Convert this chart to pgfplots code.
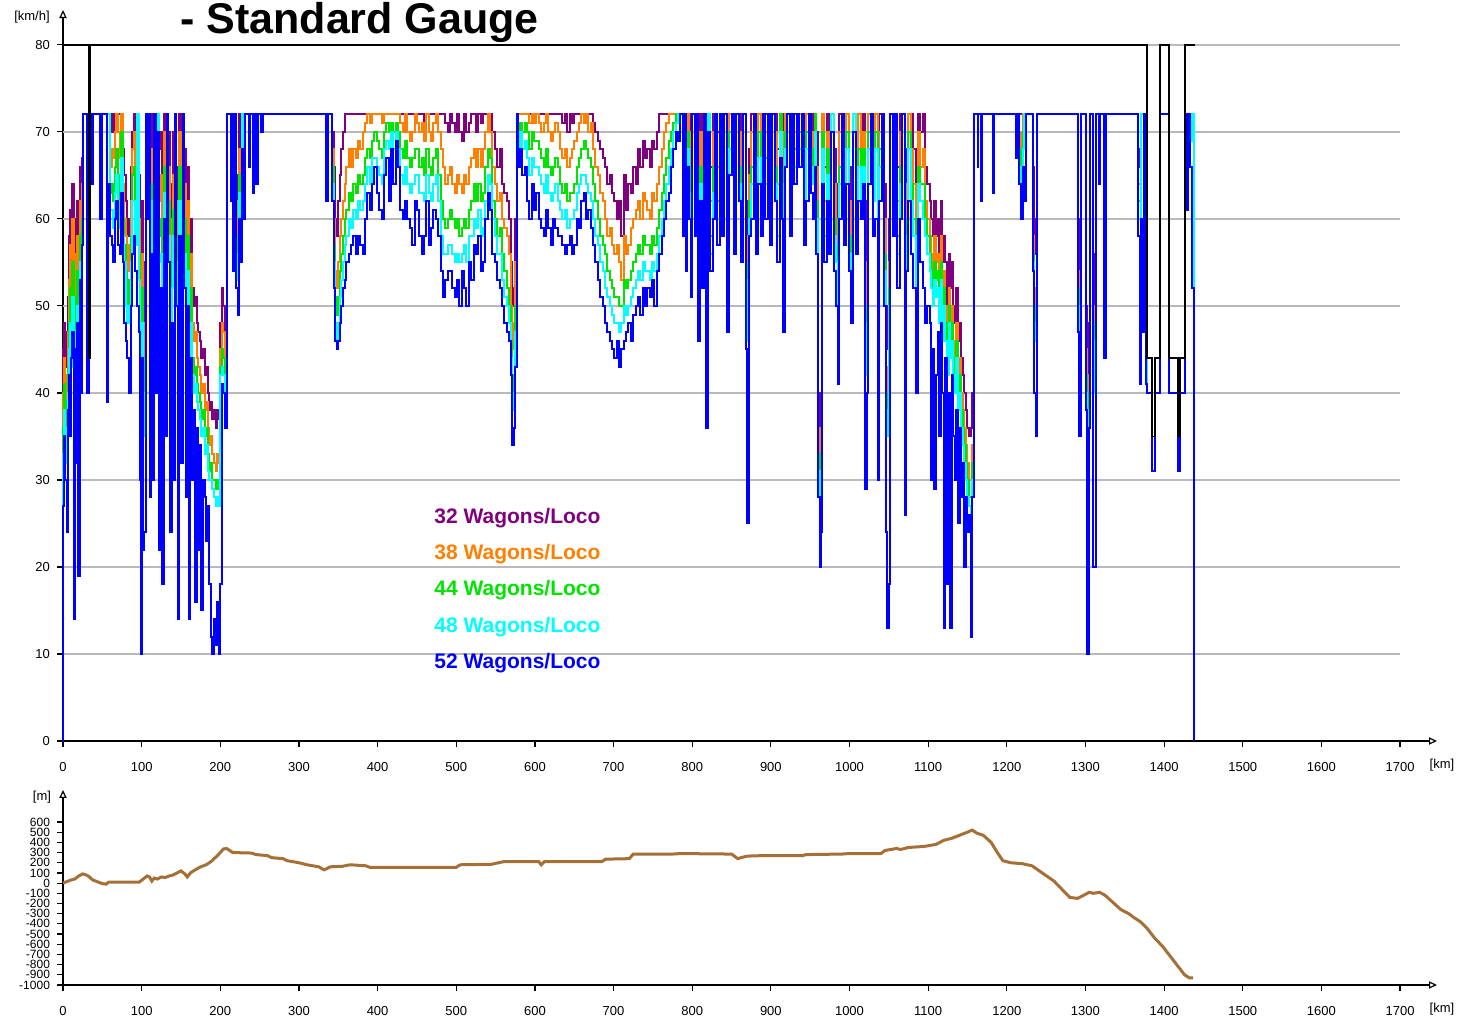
\documentclass[border=0pt]{standalone}
\usepackage{pgfplots}
\pgfplotsset{compat=1.18}
\usepackage{pgfplotstable}
\usepackage{fontspec}
\setmainfont{Liberation Sans}
\usetikzlibrary{arrows.meta}
\definecolor{cpurple}{RGB}{128,0,128}
\definecolor{corange}{RGB}{255,128,0}
\definecolor{cgreen}{RGB}{0,228,0}
\definecolor{ccyan}{RGB}{0,255,255}
\definecolor{cblue}{RGB}{0,0,255}
\definecolor{cgrid}{RGB}{185,185,185}
\definecolor{cbrown}{RGB}{165,112,55}

\pgfplotstableread{
km a b c d e
0 0 0 0 0 0
0.01 45 40 36 33 27
1.5 48 44 41 38 35
3 43 38 35 32 30
4.5 47 42 39 36 24
6 51 47 43 40 38
7.5 58 53 48 45 42
9 61 57 52 48 35
10.5 56 50 46 43 44
12 64 60 55 51 47
13.5 55 48 44 41 14
15 60 56 51 47 45
16.5 52 45 41 38 32
18 62 58 54 50 48
19.5 57 50 46 42 19
21 66 62 58 55 53
22.5 60 55 50 46 40
24 67 64 60 57 57
25.5 72 72 72 72 72
31 72 72 72 72 40
33 72 72 72 72 72
37 72 72 70 70 64
38.5 72 72 72 72 72
45 72 72 72 72 72
47 72 72 72 72 60
50 72 72 72 72 72
56 72 72 72 72 39
57.5 72 72 72 72 64
60 70 66 63 61 58
62 72 68 64 61 57
64 70 67 62 59 55
66 72 70 66 63 60
68 72 72 68 65 62
70 72 70 65 62 57
72 72 67 62 59 56
74 72 72 70 67 63
76 68 64 60 58 55
78 65 60 57 55 48
80 62 58 54 50 46
82 58 54 50 48 44
84 60 57 53 50 40
86 66 62 58 55 50
88 70 68 65 62 56
90 72 70 66 62 58
92 68 64 60 57 54
94 72 72 72 72 50
96 65 60 56 53 47
98 55 50 45 42 30
99 50 45 40 37 10
100.5 62 56 52 48 44
102 48 43 38 35 22
103.5 55 48 44 40 24
105 72 72 72 72 72
107 72 72 72 72 60
109 72 72 72 72 72
110 58 52 48 45 28
112 72 68 64 62 56
114 65 62 58 55 30
116 72 72 72 72 72
118 60 55 50 47 40
120 72 72 72 72 70
122 68 62 58 55 22
124 70 65 60 56 52
126 63 58 54 50 18
128 72 70 66 63 60
130 66 60 56 52 35
132 72 72 72 72 72
134 70 66 62 58 55
136 60 55 50 47 24
138 64 60 55 52 48
140 70 65 61 58 30
142 72 72 72 72 72
144 66 62 58 55 50
146 58 52 48 45 14
148 72 70 66 62 58
150 64 58 54 50 32
152 72 72 72 72 72
154 68 64 60 56 52
156 60 55 50 47 28
158 66 62 58 54 50
160 56 50 46 43 14
162 60 56 52 48 44
164 52 48 44 42 30
166 50 46 42 40 38
168 51 47 43 41 16
170 48 44 41 39 36
172 47 43 40 38 22
174 46 42 39 37 34
176 44 40 37 35 15
178 45 41 38 36 30
180 42 38 35 33 28
182 43 39 36 34 23
184 40 36 33 31 27
186 38 34 31 30 18
188 39 35 32 30 12
190 37 33 30 29 10
192 38 32 30 28 14
194 36 31 29 27 11
196 38 33 30 28 16
198 37 32 29 27 10
200 48 45 43 42 18
202 52 48 45 43 41
204 50 47 44 42 40
206 46 42 40 38 36
208 72 72 72 72 72
212 72 72 72 72 72
213 72 72 72 72 62
214 72 72 72 72 72
216 60 58 56 55 54
218 72 72 72 72 72
220 65 62 58 56 52
222 58 56 55 53 49
224 72 68 65 63 60
226 62 60 58 56 55
228 72 72 72 72 68
230 66 64 62 61 60
232 72 72 72 72 72
236 72 72 70 68 66
238 72 72 72 72 72
241 72 70 68 67 63
243 72 72 72 72 72
246 72 72 70 68 64
248 72 72 72 72 72
252 72 72 71 71 70
254 72 72 72 72 72
334 72 72 72 72 72
335 72 72 71 70 62
337 72 72 72 72 72
342 70 68 66 64 62
344 66 60 57 55 52
346 60 54 51 48 46
348 58 52 49 46 45
350 62 55 51 48 46
352 65 58 54 51 48
354 68 60 56 53 50
356 70 62 58 55 52
358 72 64 60 57 53
360 72 66 61 58 55
363 72 68 63 60 56
366 72 66 62 59 57
369 72 68 64 61 58
372 72 67 63 60 56
375 72 69 65 62 58
378 72 68 64 61 57
381 72 70 65 62 56
384 72 71 67 64 60
387 72 72 68 66 63
390 72 71 67 64 61
393 72 72 69 67 64
396 72 72 70 67 66
399 72 72 69 66 63
402 72 72 68 65 61
405 72 71 67 64 60
408 72 72 70 68 65
411 72 72 71 69 67
414 72 72 70 68 62
417 72 72 71 70 68
420 72 72 70 68 64
423 72 72 71 70 69
426 72 72 70 68 66
429 72 71 68 65 61
432 72 70 67 64 60
435 72 72 69 66 62
438 72 70 67 64 60
441 72 69 66 63 59
444 72 70 67 64 57
447 72 72 68 65 62
450 72 71 68 65 61
453 72 70 66 63 58
456 72 71 67 63 56
459 71 69 65 62 58
462 72 72 68 65 62
465 72 70 66 63 57
468 72 69 65 62 59
471 72 71 67 64 61
474 72 72 68 65 60
477 72 70 65 62 58
480 72 68 62 58 54
483 72 66 60 56 51
486 71 64 59 56 53
489 70 65 60 57 54
492 72 66 61 57 54
495 71 64 60 56 52
498 70 63 59 55 51
501 72 65 60 56 53
504 70 64 58 55 50
507 69 63 59 56 54
510 72 65 60 57 52
513 70 64 59 55 50
516 71 66 61 58 55
519 72 67 62 58 53
522 72 68 64 60 57
525 70 66 62 59 56
528 72 68 64 61 58
531 71 66 62 58 54
534 72 68 63 59 55
537 72 70 66 62 60
540 72 72 68 65 63
543 72 70 67 64 61
546 70 66 62 60 56
549 68 64 60 58 55
552 66 62 58 56 53
555 68 63 59 56 52
558 64 60 56 53 50
561 63 59 54 51 48
564 62 58 52 50 47
567 60 56 50 48 46
569 55 50 46 44 42
571 50 45 40 38 34
573 52 48 42 40 36
575 60 55 50 47 43
577 72 72 72 72 72
578 72 72 70 68 66
581 72 72 71 70 68
584 72 72 70 68 65
587 72 72 71 69 66
590 72 72 70 67 62
593 72 71 68 65 60
596 72 72 70 67 64
599 72 71 69 66 61
602 72 72 69 66 63
605 72 71 68 65 60
608 72 70 67 64 59
611 72 71 66 63 58
614 72 72 68 65 61
617 72 70 66 63 59
620 72 69 65 62 57
623 72 70 66 63 60
626 72 71 67 64 59
629 72 70 66 62 58
632 72 68 64 61 58
635 71 67 63 60 57
638 72 68 64 61 56
641 70 66 62 59 57
644 72 67 63 60 58
647 71 68 63 60 56
650 72 69 64 61 57
653 72 70 66 63 60
656 72 71 67 64 59
659 72 72 68 65 62
662 72 71 69 65 63
665 72 72 68 64 60
668 72 70 67 63 61
671 72 71 66 62 59
674 71 68 64 60 57
677 70 66 62 58 55
680 69 65 60 57 53
683 68 63 58 55 51
686 67 62 57 54 50
689 66 60 56 52 48
692 64 58 54 51 47
695 65 59 53 50 46
698 63 57 52 49 45
701 62 56 51 48 44
704 60 57 51 48 46
707 62 55 50 47 43
710 58 53 50 48 45
713 65 58 53 50 46
716 61 56 52 49 47
719 64 57 53 50 48
722 63 59 54 51 46
725 66 60 55 52 49
728 64 61 56 53 50
731 68 62 57 54 51
734 66 60 56 53 49
737 69 63 58 55 52
740 67 62 57 54 50
743 68 61 57 54 52
746 66 60 56 53 51
749 69 63 58 55 53
752 68 62 57 54 50
755 70 64 59 56 54
758 72 66 61 58 56
761 72 68 63 60 58
764 72 70 65 62 60
767 72 71 67 64 62
770 72 72 69 66 63
773 72 72 70 68 66
776 72 72 71 70 68
779 72 72 72 71 70
782 72 72 72 72 69
785 72 72 72 72 72
788 72 68 64 62 58
790 72 72 72 72 72
792 65 60 57 55 54
794 72 72 70 68 66
796 72 70 66 63 60
798 60 56 53 52 51
800 72 72 72 72 72
803 72 68 64 62 58
806 72 72 72 72 72
808 58 55 52 50 46
810 72 70 66 64 62
812 65 62 58 56 52
815 72 72 72 72 72
818 68 62 58 55 36
820 72 72 72 72 70
823 66 62 58 56 54
826 72 70 66 63 60
829 72 72 72 72 72
832 70 66 62 60 57
835 72 72 72 72 72
838 72 68 64 62 58
841 72 72 72 72 72
844 64 60 57 55 47
847 72 72 70 68 65
850 72 72 72 72 72
853 70 66 62 60 56
856 72 72 72 72 72
859 72 70 66 64 62
862 68 64 60 58 55
865 72 72 72 72 72
868 62 58 55 53 45
870 56 52 48 46 25
872 68 65 62 60 58
875 72 70 66 64 60
878 72 72 72 72 72
881 70 66 63 60 56
884 72 72 70 67 64
887 72 68 65 62 58
890 72 72 72 72 72
893 72 70 67 64 60
896 72 72 72 72 72
899 70 66 63 60 57
902 72 72 72 72 72
905 72 70 66 64 62
908 68 64 60 58 55
911 72 72 72 70 67
914 72 70 66 64 60
916 62 58 55 53 47
918 72 72 70 68 66
921 72 72 72 72 72
924 72 68 64 62 58
927 72 72 72 72 72
930 72 70 68 66 64
933 72 72 72 72 72
936 72 72 70 68 66
939 72 72 72 72 72
942 70 66 62 60 57
945 72 72 70 68 62
948 72 72 72 72 72
951 72 70 68 66 63
954 70 68 66 64 60
956 72 72 72 70 66
958 70 66 62 60 56
960 40 36 33 31 28
962 30 28 27 25 20
963.5 36 32 30 28 24
965 72 72 70 68 64
968 66 62 60 58 55
971 72 70 68 65 62
974 70 66 62 60 56
977 72 72 72 72 70
980 68 64 60 58 54
983 64 60 57 55 50
985 60 56 52 50 41
987 72 70 66 64 60
990 72 72 72 72 72
993 68 64 62 60 57
996 72 72 70 68 64
999 66 62 58 56 54
1002 62 58 55 53 48
1005 72 72 72 72 70
1008 70 66 62 60 56
1011 72 72 68 66 62
1014 68 66 62 60 60
1017 72 70 68 66 64
1020 62 55 50 48 29
1022 55 48 44 42 40
1024 72 72 70 68 64
1027 72 72 72 72 72
1030 70 66 64 62 58
1033 72 72 70 68 60
1036 68 64 60 58 30
1038 72 70 68 66 62
1041 72 72 72 72 72
1044 64 60 56 54 50
1046 50 43 40 38 24
1048 45 40 36 35 13
1050 60 55 52 50 18
1052 72 72 72 72 72
1055 72 68 65 62 58
1058 72 72 72 72 72
1061 66 62 58 56 52
1064 72 70 66 64 60
1067 72 72 72 72 72
1070 60 56 52 50 26
1072 68 64 60 58 54
1075 72 72 70 68 62
1078 72 68 64 62 56
1081 68 64 60 58 52
1084 60 56 53 51 40
1087 72 70 66 64 60
1090 70 66 64 62 55
1093 72 68 64 60 52
1096 66 62 60 58 48
1099 64 60 58 56 50
1102 62 58 56 54 48
1104 60 56 54 52 30
1106 58 54 52 50 45
1108 62 58 55 53 29
1110 58 55 53 51 42
1112 60 56 54 52 47
1114 56 52 50 48 35
1116 62 58 55 53 48
1118 55 50 48 46 40
1120 58 54 52 50 13
1122 55 50 48 46 44
1124 50 46 44 42 18
1126 56 52 50 48 40
1128 52 48 46 44 13
1130 55 50 48 46 42
1132 50 46 44 42 35
1134 48 44 42 40 30
1136 52 48 46 44 38
1138 46 42 40 38 25
1140 48 44 42 40 36
1142 44 40 38 36 28
1144 42 38 36 34 32
1146 40 36 34 32 20
1148 38 34 32 30 28
1150 36 32 30 28 24
1152 35 30 28 27 26
1154 36 30 28 26 12
1156 40 34 32 30 28
1158 72 72 72 72 72
1163 72 72 72 72 66
1164 72 72 72 72 72
1167 72 72 72 72 62
1168 72 72 72 72 72
1182 72 72 72 72 63
1183.5 72 72 72 72 72
1212 72 72 72 72 67
1214 72 72 72 72 72
1216 72 70 68 66 64
1218 72 68 64 62 60
1220 72 72 70 68 66
1222 72 72 72 72 62
1224 72 72 72 72 72
1233 66 58 56 55 54
1235 56 50 48 46 40
1237 60 52 50 48 35
1238.5 72 72 72 72 72
1288 72 72 72 72 72
1290 60 54 52 50 47
1292 52 50 48 46 35
1294 72 72 72 72 72
1301 50 45 42 40 38
1302.5 24 21 20 18 10
1304 48 42 40 38 36
1306 72 72 72 72 72
1309 56 50 48 46 20
1311 47 44 42 40 20
1313 72 72 72 72 72
1317 72 72 72 72 64
1319 72 72 72 72 72
1324 58 52 50 48 44
1326 72 72 72 72 72
1367 68 64 62 60 58
1369 66 64 62 60 41
1371 72 72 72 72 60
1373 72 72 72 72 47
1375 72 72 72 72 72
1376.5 72 72 72 72 41
1378.4 40 40 40 40 40
1384.8 31 31 31 31 31
1388.6 40 40 40 40 40
1394.9 72 72 72 72 72
1405.8 40 40 40 40 40
1417.9 31 31 31 31 31
1420.4 40 40 40 40 40
1426.8 72 72 72 72 72
1429 72 72 72 72 61
1431 72 72 72 72 72
1433 72 72 70 69 66
1435 72 72 72 72 52
1437.5 0 0 0 0 0
}\speeddata

\pgfplotstableread{
km h
0 0
5 15
10 30
15 40
20 70
25 90
28 85
32 70
38 30
45 10
50 -5
55 -10
58 10
97 10
102 40
107 70
110 60
113 20
116 50
120 40
125 60
130 55
135 70
140 80
145 100
150 120
155 90
158 60
162 100
168 130
175 160
182 180
188 210
195 260
200 300
204 335
208 340
212 320
216 300
240 295
245 280
260 270
265 250
280 240
285 220
300 200
310 180
325 160
332 130
340 160
355 165
365 180
385 170
390 155
500 155
505 180
545 185
560 210
605 210
608 180
612 210
685 210
690 235
720 240
725 285
775 285
785 290
850 285
858 240
862 250
870 265
890 270
940 270
945 280
990 285
1000 290
1040 290
1045 320
1060 340
1065 330
1075 350
1095 360
1110 380
1120 420
1130 440
1140 470
1150 500
1156 520
1162 490
1170 470
1180 400
1188 300
1195 220
1205 200
1220 190
1232 170
1245 100
1260 20
1270 -60
1280 -140
1290 -150
1295 -130
1305 -90
1310 -100
1318 -90
1325 -120
1335 -190
1345 -260
1355 -300
1362 -340
1370 -380
1378 -440
1388 -540
1398 -620
1408 -720
1418 -820
1426 -900
1432 -930
1437 -930
}\elevdata

\pgfplotsset{
  base/.style={
    scale only axis, width=687pt,
    xmin=0, xmax=1747, enlargelimits=false,
    axis lines=left,
    axis line style={black, line width=0.6pt, -{Triangle[open,length=4pt,width=3.6pt]}},
    xtick={0,100,...,1700},
    tick align=outside, major tick length=3pt,
    tick style={black, line width=0.6pt},
    ticklabel style={font=\fontsize{6.5}{7}\selectfont},
    xticklabel style={yshift=-4pt},
    /pgf/number format/1000 sep={},
    /pgf/number format/assume math mode=true,
    clip=false,
  },
  sp/.style={const plot, line width=1pt},
}

\begin{document}
\begin{tikzpicture}
\begin{axis}[base, at={(31.5pt,139.5pt)}, anchor=south west,
  height=365.5pt, ymin=0, ymax=84, ytick={0,10,...,80}]
  \pgfplotsinvokeforeach{10,20,...,80}{
    \draw[cgrid, line width=0.75pt] (axis cs:0,#1) -- (axis cs:1700,#1);
  }
  \addplot[sp, cpurple] table[x=km, y=a] {\speeddata};
  \addplot[sp, corange] table[x=km, y=b] {\speeddata};
  \addplot[sp, cgreen] table[x=km, y=c] {\speeddata};
  \addplot[sp, ccyan] table[x=km, y=d] {\speeddata};
  \addplot[sp, cblue] table[x=km, y=e] {\speeddata};
  \addplot[const plot, black, line width=0.9pt] coordinates {
    (0,80) (33,44) (34.2,80) (1378.4,44) (1384.8,35) (1388.6,44) (1394.9,80)
    (1405.8,44) (1417.9,35) (1420.4,44) (1426.8,80) (1439.5,80)};
\end{axis}
\begin{axis}[base, at={(31.5pt,17.5pt)}, anchor=south west,
  height=97.5pt, ymin=-1000, ymax=914, ytick={-1000,-900,...,600},
  yticklabel style={font=\fontsize{6}{6}\selectfont}]
  \addplot[sharp plot, cbrown, line width=1.5pt] table[x=km, y=h] {\elevdata};
\end{axis}
\begin{scope}[every node/.style={inner sep=0pt}]
\node[anchor=base west, font=\fontsize{21.5}{24}\selectfont\bfseries] at (90pt,493pt) {- Standard Gauge};
\node[font=\fontsize{6.5}{7}\selectfont] at (16pt,501.5pt) {[km/h]};
\node[font=\fontsize{6.5}{7}\selectfont] at (21pt,111.5pt) {[m]};
\node[font=\fontsize{6.5}{7}\selectfont] at (721pt,127.5pt) {[km]};
\node[font=\fontsize{6.5}{7}\selectfont] at (721pt,5.5pt) {[km]};
\begin{scope}[every node/.style={anchor=west, inner sep=0pt, font=\fontsize{10.5}{12}\selectfont\bfseries}]
\node[text=cpurple] at (217pt,251pt) {32 Wagons/Loco};
\node[text=corange] at (217pt,233pt) {38 Wagons/Loco};
\node[text=cgreen] at (217pt,215pt) {44 Wagons/Loco};
\node[text=ccyan] at (217pt,196.5pt) {48 Wagons/Loco};
\node[text=cblue] at (217pt,178.5pt) {52 Wagons/Loco};
\end{scope}
\end{scope}
\pgfresetboundingbox
\path[use as bounding box] (0,0) rectangle (730.5pt,510pt);
\end{tikzpicture}
\end{document}
